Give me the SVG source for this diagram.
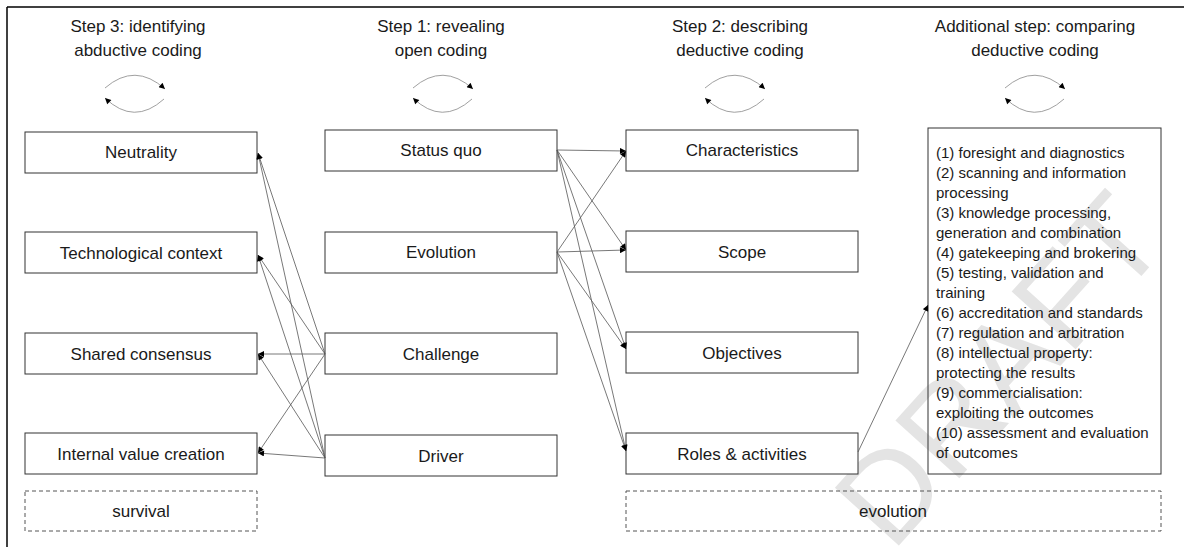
<svg xmlns="http://www.w3.org/2000/svg" width="1184" height="547" viewBox="0 0 1184 547">
<style>
  .t{font-family:"Liberation Sans",Arial,sans-serif;fill:#1a1a1a}
  .hd{font-size:17px;text-anchor:middle}
  .lb{font-size:17px;text-anchor:middle}
  .ls{font-size:15px}
  .box{fill:#fff;stroke:#333;stroke-width:1}
  .big{fill:none;stroke:#333;stroke-width:1}
  .dash{fill:none;stroke:#555;stroke-width:1;stroke-dasharray:4 3}
  .cn{stroke:#555;stroke-width:0.8;fill:none;marker-end:url(#ah)}
  .cyc{stroke:#888;stroke-width:0.8;fill:none;marker-end:url(#ah)}
  .wm{font-family:"Liberation Sans",Arial,sans-serif;font-size:125px;fill:#e4e4e4}
</style>
<defs>
  <marker id="ah" viewBox="0 0 10 10" refX="10" refY="5" markerWidth="7" markerHeight="6" markerUnits="userSpaceOnUse" orient="auto">
    <path d="M0,0 L10,5 L0,10 z" fill="#000"/>
  </marker>
</defs>
<rect width="1184" height="547" fill="#fff"/>
<g id="watermark">
  <text class="wm" x="0" y="45" text-anchor="middle" transform="translate(998 368) rotate(-48)">DRAFT</text>
</g>
<g id="frame">
  <line x1="7" y1="7" x2="1184" y2="7" stroke="#000" stroke-width="1.5"/>
  <line x1="7" y1="7" x2="7" y2="547" stroke="#000" stroke-width="1.5"/>
</g>
<g id="headers">
  <text class="t hd" x="138" y="32">Step 3: identifying</text>
  <text class="t hd" x="138" y="56">abductive coding</text>
  <text class="t hd" x="441" y="32">Step 1: revealing</text>
  <text class="t hd" x="441" y="56">open coding</text>
  <text class="t hd" x="740" y="32">Step 2: describing</text>
  <text class="t hd" x="740" y="56">deductive coding</text>
  <text class="t hd" x="1035" y="32">Additional step: comparing</text>
  <text class="t hd" x="1035" y="56">deductive coding</text>
</g>
<g id="cycles">
  <path class="cyc" d="M105,88 Q135,62 165,89"/>
  <path class="cyc" d="M164,99 Q134,126 105,98"/>
  <path class="cyc" d="M413,88 Q443,62 473,89"/>
  <path class="cyc" d="M472,99 Q442,126 413,98"/>
  <path class="cyc" d="M705,88 Q735,62 765,89"/>
  <path class="cyc" d="M764,99 Q734,126 705,98"/>
  <path class="cyc" d="M1005,88 Q1035,62 1065,89"/>
  <path class="cyc" d="M1064,99 Q1034,126 1005,98"/>
</g>
<g id="n-neutrality"><rect class="box" x="25" y="132" width="232" height="41"/><text class="t lb" x="141" y="158">Neutrality</text></g>
<g id="n-techcontext"><rect class="box" x="25" y="232" width="232" height="41"/><text class="t lb" x="141" y="259">Technological context</text></g>
<g id="n-consensus"><rect class="box" x="25" y="333" width="232" height="41"/><text class="t lb" x="141" y="360">Shared consensus</text></g>
<g id="n-internalvalue"><rect class="box" x="25" y="433" width="232" height="41"/><text class="t lb" x="141" y="460">Internal value creation</text></g>
<g id="n-survival"><rect class="dash" x="25" y="491" width="232" height="40"/><text class="t lb" x="141" y="517">survival</text></g>

<g id="n-statusquo"><rect class="box" x="325" y="130" width="232" height="41"/><text class="t lb" x="441" y="156">Status quo</text></g>
<g id="n-evolution-step1"><rect class="box" x="325" y="232" width="232" height="41"/><text class="t lb" x="441" y="258">Evolution</text></g>
<g id="n-challenge"><rect class="box" x="325" y="333" width="232" height="41"/><text class="t lb" x="441" y="360">Challenge</text></g>
<g id="n-driver"><rect class="box" x="325" y="435" width="232" height="41"/><text class="t lb" x="441" y="462">Driver</text></g>

<g id="n-characteristics"><rect class="box" x="626" y="130" width="232" height="41"/><text class="t lb" x="742" y="156">Characteristics</text></g>
<g id="n-scope"><rect class="box" x="626" y="231" width="232" height="41"/><text class="t lb" x="742" y="258">Scope</text></g>
<g id="n-objectives"><rect class="box" x="626" y="332" width="232" height="41"/><text class="t lb" x="742" y="359">Objectives</text></g>
<g id="n-roles"><rect class="box" x="626" y="433" width="232" height="41"/><text class="t lb" x="742" y="460">Roles &amp; activities</text></g>
<g id="n-evolution"><rect class="dash" x="626" y="491" width="535" height="40"/><text class="t lb" x="893" y="517">evolution</text></g>

<g id="n-functions">
  <rect class="big" x="928" y="128" width="233" height="346"/>
  <text class="t ls" x="936" y="158">(1) foresight and diagnostics</text>
  <text class="t ls" x="936" y="178">(2) scanning and information</text>
  <text class="t ls" x="936" y="198">processing</text>
  <text class="t ls" x="936" y="218">(3) knowledge processing,</text>
  <text class="t ls" x="936" y="238">generation and combination</text>
  <text class="t ls" x="936" y="258">(4) gatekeeping and brokering</text>
  <text class="t ls" x="936" y="278">(5) testing, validation and</text>
  <text class="t ls" x="936" y="298">training</text>
  <text class="t ls" x="936" y="318">(6) accreditation and standards</text>
  <text class="t ls" x="936" y="338">(7) regulation and arbitration</text>
  <text class="t ls" x="936" y="358">(8) intellectual property:</text>
  <text class="t ls" x="936" y="378">protecting the results</text>
  <text class="t ls" x="936" y="398">(9) commercialisation:</text>
  <text class="t ls" x="936" y="418">exploiting the outcomes</text>
  <text class="t ls" x="936" y="438">(10) assessment and evaluation</text>
  <text class="t ls" x="936" y="458">of outcomes</text>
</g>

<g id="connectors">
  <line class="cn" x1="325" y1="354" x2="258" y2="153"/>
  <line class="cn" x1="325" y1="354" x2="258" y2="255"/>
  <line class="cn" x1="325" y1="354" x2="258" y2="354"/>
  <line class="cn" x1="325" y1="354" x2="258" y2="453"/>
  <line class="cn" x1="325" y1="458" x2="258" y2="153"/>
  <line class="cn" x1="325" y1="458" x2="258" y2="255"/>
  <line class="cn" x1="325" y1="458" x2="258" y2="354"/>
  <line class="cn" x1="325" y1="458" x2="258" y2="453"/>

  <line class="cn" x1="557" y1="150" x2="626" y2="151"/>
  <line class="cn" x1="557" y1="150" x2="626" y2="250"/>
  <line class="cn" x1="557" y1="150" x2="626" y2="349"/>
  <line class="cn" x1="557" y1="150" x2="626" y2="451"/>
  <line class="cn" x1="557" y1="252" x2="626" y2="151"/>
  <line class="cn" x1="557" y1="252" x2="626" y2="250"/>
  <line class="cn" x1="557" y1="252" x2="626" y2="349"/>
  <line class="cn" x1="557" y1="252" x2="626" y2="451"/>

  <line class="cn" x1="858" y1="452" x2="928" y2="305"/>
</g>
</svg>
